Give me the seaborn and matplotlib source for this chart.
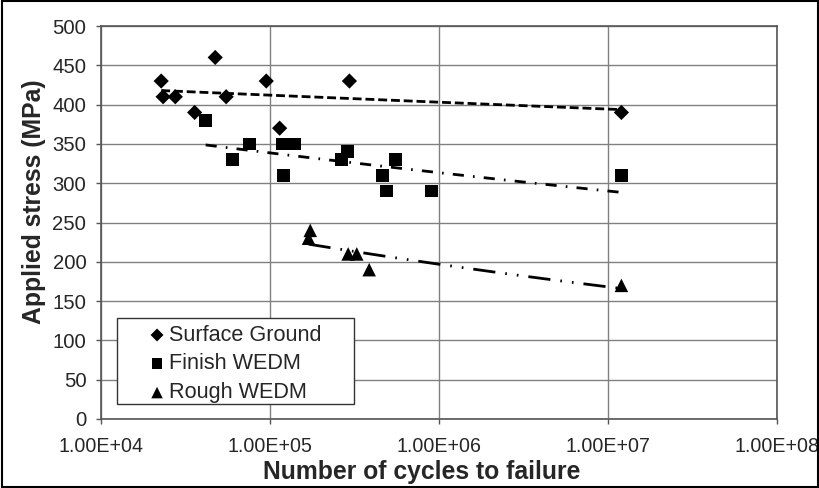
import numpy as np
import pandas as pd
import matplotlib
matplotlib.use("Agg")
import matplotlib.pyplot as plt
from matplotlib.ticker import FixedLocator, FuncFormatter
from matplotlib.patches import Rectangle
import seaborn as sns

# data
sg_cycles = [2.27e4, 2.33e4, 2.75e4, 3.58e4, 4.74e4, 5.5e4, 9.5e4, 1.14e5, 2.95e5, 1.2e7]
sg_stress = [430, 410, 410, 390, 460, 410, 430, 370, 430, 390]

fw_cycles = [4.16e4, 6.0e4, 7.6e4, 1.19e5, 1.2e5, 1.4e5, 2.66e5, 2.86e5, 4.62e5, 4.9e5, 5.5e5, 9.05e5, 1.2e7]
fw_stress = [380, 330, 350, 350, 310, 350, 330, 340, 310, 290, 330, 290, 310]

rw_cycles = [1.69e5, 1.73e5, 2.9e5, 3.26e5, 3.86e5, 1.2e7]
rw_stress = [230, 240, 210, 210, 190, 170]

series = ["Surface Ground", "Finish WEDM", "Rough WEDM"]

df = pd.concat([
    pd.DataFrame({"cycles": sg_cycles, "stress": sg_stress, "finish": series[0]}),
    pd.DataFrame({"cycles": fw_cycles, "stress": fw_stress, "finish": series[1]}),
    pd.DataFrame({"cycles": rw_cycles, "stress": rw_stress, "finish": series[2]}),
])

sns.set_style("white")
plt.rcParams["font.family"] = ["Liberation Sans", "DejaVu Sans"]

fig = plt.figure(figsize=(8.2, 4.88), dpi=100)
ax = fig.add_axes([0.1232, 0.1414, 0.8244, 0.8053])

markers = {series[0]: "D", series[1]: "s", series[2]: "^"}
sizes = {series[0]: 60, series[1]: 85, series[2]: 95}
for name in series:
    sub = df[df["finish"] == name]
    sns.scatterplot(data=sub, x="cycles", y="stress", marker=markers[name],
                    s=sizes[name], color="black", edgecolor="none", ax=ax,
                    label=name, zorder=3)

# power-law trendlines (Excel style), fitted in log-log space
styles = {series[0]: (0, (3.2, 1.4)),
          series[1]: (0, (4, 3.3, 0.6, 3.3)),
          series[2]: (0, (8, 3.6, 0.6, 3.6, 0.6, 3.6))}
for name in series:
    sub = df[df["finish"] == name]
    b, loga = np.polyfit(np.log(sub["cycles"]), np.log(sub["stress"]), 1)
    xs = np.logspace(np.log10(sub["cycles"].min()), np.log10(sub["cycles"].max()), 100)
    ax.plot(xs, np.exp(loga) * xs ** b, color="black", lw=2,
            linestyle=styles[name], zorder=2)

ax.set_xscale("log")
ax.set_xlim(1e4, 1e8)
ax.set_ylim(0, 500)
ax.xaxis.set_major_locator(FixedLocator([1e4, 1e5, 1e6, 1e7, 1e8]))
ax.xaxis.set_minor_locator(FixedLocator([]))
ax.xaxis.set_major_formatter(FuncFormatter(lambda v, p: "%.2E" % v))
ax.set_yticks(np.arange(0, 501, 50))
ax.grid(True, color="#808080", lw=1)
ax.set_axisbelow(True)
for sp in ax.spines.values():
    sp.set_color("#555555")
    sp.set_linewidth(1.2)
ax.tick_params(axis="both", direction="out", length=3.6, width=1, color="#555555",
               labelsize=14.6, bottom=True, left=True)
ax.tick_params(axis="x", pad=9.5, labelsize=14.1)
ax.tick_params(axis="y", pad=7)

ax.set_xlabel("Number of cycles to failure", fontsize=17.8, fontweight="bold", va="top")
ax.set_ylabel("Applied stress (MPa)", fontsize=17.8, fontweight="bold")
ax.xaxis.set_label_coords(0.474, -0.105)
ax.yaxis.set_label_coords(-0.0815, 0.553)

# legend: entries without frame, Excel-like box drawn separately
leg = ax.legend(loc="center left", bbox_to_anchor=(0.054, 0.140), frameon=False,
                fontsize=15.6, handletextpad=0.15, borderpad=0, labelspacing=0.36,
                handlelength=0.8, markerscale=0.85)
ax.add_patch(Rectangle((0.0237, 0.038), 0.3503, 0.219, transform=ax.transAxes,
                       facecolor="white", edgecolor="#333333", lw=1, zorder=4))
leg.set_zorder(5)

fig.patches.append(Rectangle((0.002, 0.003), 0.996, 0.994, transform=fig.transFigure,
                             fill=False, edgecolor="black", lw=1.5))

fig.savefig("out.png", dpi=100)
